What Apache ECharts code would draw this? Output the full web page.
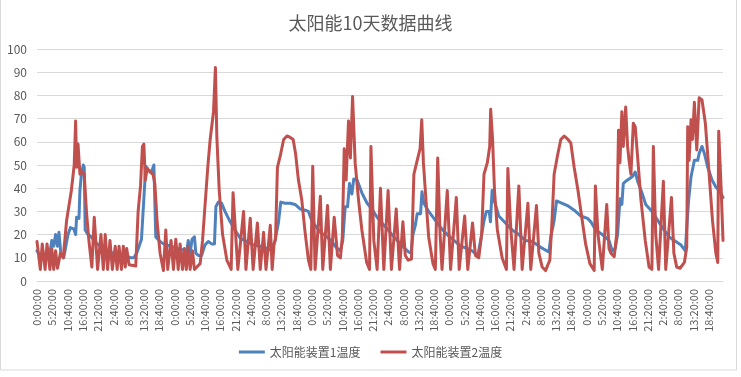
<!DOCTYPE html>
<html>
<head>
<meta charset="utf-8">
<script src="https://cdn.jsdelivr.net/npm/echarts@6/dist/echarts.min.js"></script>
<style>
  html, body { margin: 0; padding: 0; background: #fff; }
  #chart { width: 741px; height: 377px; }
</style>
</head>
<body>
<div id="chart"></div>
<script>
// x values are minutes since the first sample (10 days)
const timeLabels = ['0:00:00', '5:20:00', '10:40:00', '16:00:00', '21:20:00', '2:40:00', '8:00:00', '13:20:00', '18:40:00'];
const seriesNames = ['太阳能装置1温度', '太阳能装置2温度'];

// 太阳能装置1温度
const temp1 = [
  [0,13],[60,11],[130,12],[200,10],[270,12],[310,17.5],[350,15],[390,20],[430,15],[460,21],[500,12],[560,10],
  [650,20],[700,23],[770,22.5],[810,20],[830,27.5],[880,27],[900,39],[930,46],[970,50],[990,49],[1010,22],
  [1070,20],[1140,19],[1210,17],[1320,15],[1460,13],[1600,12],[1740,11],[1880,11],[1950,10],[2030,10],[2090,12],
  [2190,18],[2230,32],[2280,49.5],[2330,48],[2400,47],[2450,50],[2490,19],[2580,17],[2650,16],[2800,15],[2950,14],
  [3140,13],[3170,17.5],[3210,12],[3250,18],[3300,19],[3330,12],[3380,11],[3450,11],[3520,15.5],[3590,17],[3660,16],
  [3720,16],[3750,32],[3800,34],[3870,33.5],[3940,30],[4050,25.5],[4150,22],[4260,18.5],[4400,17],[4540,15.5],
  [4680,15],[4820,14],[4920,13],[4990,17.5],[5060,25],[5110,34],[5200,33.5],[5310,33.5],[5410,33],[5520,31],
  [5620,30.5],[5690,30],[5760,26],[5830,24],[5940,21],[6080,19],[6180,17],[6290,14],[6360,13],[6410,17.5],[6460,32],
  [6510,32],[6550,42],[6600,37.5],[6640,44],[6710,43.5],[6810,38],[6920,33.5],[7020,31],[7130,27.5],[7230,25],
  [7340,22.5],[7440,20],[7550,17.5],[7690,14.5],[7790,12.5],[7840,12],[7880,20],[7930,24],[7970,29],[8040,29],
  [8070,38.5],[8110,33.5],[8210,30],[8320,27],[8460,23],[8600,20],[8740,17.5],[8880,15],[9020,14],[9120,13],
  [9240,11],[9300,17.5],[9370,26],[9420,30],[9480,30],[9505,25.5],[9540,39],[9580,35],[9610,33],[9680,28],[9820,25],
  [9960,22],[10100,20],[10240,17.5],[10380,17],[10560,14.5],[10730,12.5],[10770,19],[10840,26],[10890,34.5],
  [11010,33.5],[11120,32.5],[11260,30.5],[11400,28],[11540,27],[11610,25.5],[11710,22],[11850,20],[11990,17.5],
  [12060,13],[12120,14],[12170,20],[12220,35.5],[12260,33],[12290,42],[12340,43],[12410,44],[12480,45],[12540,47],
  [12590,43],[12680,38],[12760,33],[12870,30.5],[12970,27.5],[13110,23],[13250,19],[13390,17],[13500,15.5],
  [13590,13],[13620,23],[13660,35],[13710,45],[13730,47],[13780,52],[13850,52],[13880,55],[13940,58],[13990,55],
  [14060,49],[14150,43.5],[14230,40.5],[14320,38.5],[14380,36]
];

// 太阳能装置2温度
const temp2 = [
  [0,17],[70,5],[110,16],[170,5],[210,16],[270,5],[310,14],[350,5],[390,13],[430,5.5],[490,12],[550,10],
  [620,26],[720,39],[780,50],[810,69],[830,49],[860,59],[900,46],[950,47],[990,46],[1040,29],[1090,17],[1150,6],
  [1200,27.5],[1270,5],[1340,20],[1390,5],[1430,20],[1480,5],[1530,17.5],[1580,5],[1640,15],[1680,5],[1720,15],
  [1770,5],[1810,15],[1850,6],[1880,14],[1930,7],[2070,6.5],[2120,30],[2170,41],[2210,58],[2240,59],[2270,43.5],
  [2310,48.5],[2370,47],[2430,46],[2470,42],[2520,25],[2580,12],[2650,4.5],[2700,22],[2740,5],[2810,17.5],[2860,5],
  [2910,18],[2960,5],[3000,16],[3050,5],[3090,14],[3130,5],[3170,15],[3210,5],[3260,13],[3300,5],[3350,6],
  [3420,7.5],[3470,17.5],[3520,32],[3580,49],[3630,61],[3700,73],[3740,92],[3770,62],[3820,39],[3890,20],[3980,9],
  [4070,5],[4110,38],[4210,5],[4330,30],[4380,5],[4470,27],[4530,5],[4620,25],[4680,5],[4750,21],[4800,5],
  [4890,24],[4930,5],[4970,16],[5000,18],[5040,49],[5100,54],[5170,61],[5240,62.5],[5300,62],[5370,61],[5420,55],
  [5480,43.5],[5550,35],[5620,21],[5690,9],[5740,5],[5780,49.5],[5830,5],[5940,36.5],[5990,5],[6090,32.5],
  [6150,5],[6230,27.5],[6300,11],[6360,10],[6400,19],[6440,57],[6480,43.5],[6530,69],[6570,53],[6615,79.5],
  [6670,50.7],[6740,35],[6810,22],[6910,8],[6970,5],[7000,58],[7060,17.5],[7130,5],[7200,40],[7270,5],[7360,39],
  [7430,5],[7530,31],[7600,5],[7670,25.5],[7720,11],[7780,9],[7850,9.5],[7900,46],[7970,52],[8030,57],[8065,69.5],
  [8100,51],[8150,36],[8210,19],[8300,7.5],[8350,5],[8400,53],[8450,20],[8490,5],[8600,39],[8670,5],[8790,36],
  [8850,5],[8965,28],[9030,5],[9130,25],[9190,11],[9260,10],[9320,20],[9370,46],[9440,51],[9490,58],[9510,74],
  [9550,61],[9590,39],[9650,22],[9750,10],[9840,5],[9870,48.5],[9930,23],[10000,5],[10100,41],[10170,5],
  [10290,33.5],[10350,5],[10470,32.5],[10520,12],[10590,6],[10660,4.5],[10750,9],[10800,27.5],[10840,46],
  [10910,54],[10980,61],[11050,62.5],[11130,61],[11190,59.5],[11260,49],[11340,39],[11430,26],[11500,16],
  [11590,7.5],[11680,4.5],[11705,41],[11760,20],[11850,5],[11943,33],[11990,14],[12030,12],[12100,10.5],
  [12150,20],[12190,65],[12220,51],[12260,73],[12290,58],[12340,75],[12380,58],[12410,52],[12450,46],[12500,68],
  [12540,66.5],[12590,53.5],[12660,35],[12750,17.5],[12830,6],[12890,5],[12920,58],[12970,20],[13030,5],
  [13130,43],[13180,5],[13300,36],[13350,12],[13410,6],[13480,5.5],[13570,8],[13620,14.5],[13640,66.5],
  [13670,52],[13710,69.5],[13740,61],[13780,77],[13830,56.5],[13880,79],[13940,78],[14010,68],[14090,46],
  [14160,26],[14230,12],[14270,8],[14290,64.5],[14340,40.5],[14380,17.5]
];

const labelStep = 320;   // one label every 5h20m
const lastMinute = 14380;

var dom = document.getElementById('chart');
var myChart = echarts.init(dom, null, { renderer: 'canvas' });

const font = '"Noto Sans CJK SC", "Noto Sans", sans-serif';

const option = {
  animation: false,
  backgroundColor: '#fff',
  textStyle: { fontFamily: font },
  title: {
    text: '太阳能10天数据曲线',
    left: 'center',
    top: 9,
    textStyle: { fontFamily: font, fontSize: 18, fontWeight: 'normal', color: '#595959' }
  },
  legend: {
    bottom: 14,
    left: 'center',
    itemWidth: 26,
    itemHeight: 3,
    itemGap: 20,
    icon: 'rect',
    textStyle: { fontFamily: font, fontSize: 12, color: '#595959' },
    data: seriesNames
  },
  grid: { left: 37, right: 18, top: 49, bottom: 96 },
  xAxis: {
    type: 'value',
    min: 0,
    max: lastMinute,
    interval: labelStep,
    axisLine: { show: true, lineStyle: { color: '#d9d9d9', width: 1 } },
    axisTick: { show: false },
    splitLine: { show: false },
    axisLabel: {
      rotate: 90,
      margin: 8,
      fontSize: 11,
      color: '#595959',
      showMaxLabel: false,
      formatter: function (v) {
        if (v % labelStep !== 0) return '';
        return timeLabels[(v / labelStep) % timeLabels.length];
      }
    }
  },
  yAxis: {
    type: 'value',
    min: 0,
    max: 100,
    interval: 10,
    axisLine: { show: false },
    axisTick: { show: false },
    splitLine: { lineStyle: { color: '#d9d9d9', width: 1 } },
    axisLabel: { fontSize: 12, color: '#595959', margin: 10 }
  },
  graphic: [{
    type: 'rect',
    shape: { x: 0.5, y: -1, width: 736, height: 371 },
    style: { fill: null, stroke: '#d9d9d9', lineWidth: 1 },
    silent: true
  }],
  series: [
    {
      name: seriesNames[0],
      type: 'line',
      data: temp1,
      showSymbol: false,
      color: '#4f81bd',
      lineStyle: { width: 3, color: '#4f81bd', join: 'round', cap: 'round' }
    },
    {
      name: seriesNames[1],
      type: 'line',
      data: temp2,
      showSymbol: false,
      color: '#c0504d',
      lineStyle: { width: 3, color: '#c0504d', join: 'round', cap: 'round' }
    }
  ]
};

myChart.setOption(option);
window.addEventListener('resize', myChart.resize);
</script>
</body>
</html>
